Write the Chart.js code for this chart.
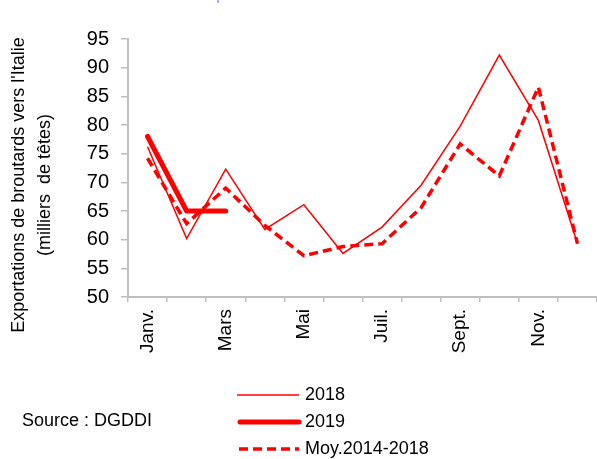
<!DOCTYPE html>
<html>
<head>
<meta charset="utf-8">
<script src="https://cdn.jsdelivr.net/npm/chart.js@4"></script>
<style>
  body { margin: 0; background: #fff; font-family: "Liberation Sans", Arial, sans-serif; }
  #wrap { position: relative; width: 597px; height: 459px; overflow: hidden; }
  #myChart { position: absolute; left: 0; top: 0; }
  .ytitle { position: absolute; font-size: 18px; color: #000; white-space: pre; transform: translate(-50%, -50%) rotate(-90deg); }
  .titre { position: absolute; left: 315px; top: -13px; transform: translateX(-50%); font-size: 14px; line-height: 16px; color: #8080ff; white-space: nowrap; }
  .leg { position: absolute; left: 237px; font-size: 18px; color: #000; }
  .leg svg { position: absolute; left: 0; top: 0; }
  .leg span { position: absolute; left: 68px; top: -11px; white-space: nowrap; }
  .source { position: absolute; left: 22px; top: 410px; font-size: 18px; color: #000; }
</style>
</head>
<body>
<div id="wrap">
  <canvas id="myChart" width="597" height="459"></canvas>
  <div class="titre">Exportations de broutards vers l'Italie</div>
  <div class="ytitle" style="left:18px; top:185px;">Exportations de broutards vers l'Italie</div>
  <div class="ytitle" style="left:44px; top:185px;">(milliers  de têtes)</div>
  <div class="leg" style="top:395px;"><svg width="64" height="2" style="top:-1px"><line x1="0" y1="1" x2="62" y2="1" stroke="#ff0000" stroke-width="1.5"/></svg><span>2018</span></div>
  <div class="leg" style="top:422px;"><svg width="66" height="8" style="top:-4px"><line x1="3" y1="4" x2="62" y2="4" stroke="#ff0000" stroke-width="5" stroke-linecap="round"/></svg><span>2019</span></div>
  <div class="leg" style="top:449px;"><svg width="64" height="6" style="top:-3px"><line x1="2" y1="3" x2="62" y2="3" stroke="#ff0000" stroke-width="3.5" stroke-dasharray="9 5"/></svg><span>Moy.2014-2018</span></div>
  <div class="source">Source : DGDDI</div>
</div>
<script>
const mois = ['Janv.', 'Févr.', 'Mars', 'Avr.', 'Mai', 'Juin', 'Juil.', 'Août', 'Sept.', 'Oct.', 'Nov.', 'Déc.'];
const serie2018 = [76.2, 60.2, 72.3, 61.8, 66.1, 57.6, 62.2, 69.5, 79.8, 92.2, 80.8, 59.3];
const serie2019 = [78, 65, 65, null, null, null, null, null, null, null, null, null];
const moyenne = [74.2, 62.8, 69, 62.5, 57.2, 58.8, 59.3, 65.6, 76.7, 71.1, 86.6, 59.3];
const yMin = 50, yMax = 95, yPas = 5;

const ctx = document.getElementById('myChart');
const gris = '#bfbfbf';

new Chart(ctx, {
    type: 'line',
    data: {
        labels: mois,
        datasets: [
            { label: '2018', data: serie2018, borderColor: '#ff0000', borderWidth: 1.5, pointRadius: 0, tension: 0 },
            { label: 'Moy.2014-2018', data: moyenne, borderColor: '#ff0000', borderWidth: 3.5, borderDash: [9, 5], pointRadius: 0, tension: 0 },
            { label: '2019', data: serie2019, borderColor: '#ff0000', borderWidth: 5, borderCapStyle: 'round', borderJoinStyle: 'round', pointRadius: 0, tension: 0 }
        ]
    },
    options: {
        responsive: false,
        animation: false,
        layout: { padding: { top: 39, right: 0, left: 0, bottom: 0 } },
        plugins: { legend: { display: false }, tooltip: { enabled: false } },
        scales: {
            x: {
                offset: true,
                grid: { offset: true, drawOnChartArea: false, drawTicks: true, tickLength: 5, color: gris, lineWidth: 1.5 },
                border: { color: gris, width: 2 },
                ticks: {
                    autoSkip: false, maxRotation: 90, minRotation: 90, padding: 7,
                    color: '#000', font: { family: 'Liberation Sans', size: 19 },
                    callback: function (v, i) { return i % 2 === 0 ? mois[i] : ''; }
                },
                afterFit: function (s) { s.height = 459 - 297; s.paddingLeft = 0; s.paddingRight = 0; }
            },
            y: {
                min: yMin, max: yMax,
                grid: { drawOnChartArea: false, drawTicks: true, tickLength: 7, color: gris, lineWidth: 1.5 },
                border: { color: gris, width: 2 },
                ticks: { stepSize: yPas, padding: 12, color: '#000', font: { family: 'Liberation Sans', size: 20 } },
                afterFit: function (s) { s.width = 128; }
            }
        }
    }
});
</script>
</body>
</html>
